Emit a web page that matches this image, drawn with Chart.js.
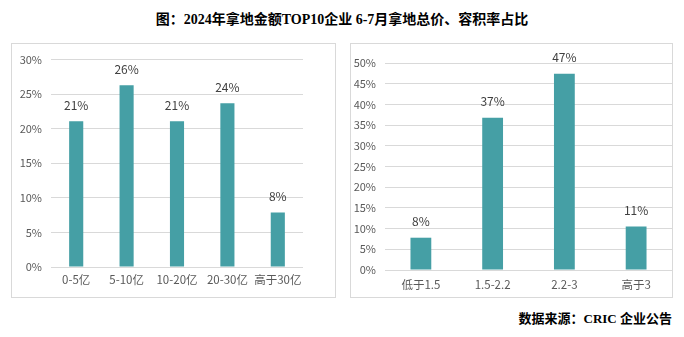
<!DOCTYPE html>
<html>
<head>
<meta charset="utf-8">
<script src="https://cdn.jsdelivr.net/npm/chart.js@4/dist/chart.umd.min.js"></script>
<style>
  body { margin: 0; background: #fff; width: 684px; height: 337px; position: relative; overflow: hidden; }
  #title { position: absolute; left: 0; width: 684px; top: 8px; text-align: center; font: bold 14px "Liberation Serif", "Noto Sans CJK SC"; color: #000; }
  #source { position: absolute; right: 12px; top: 308px; font: bold 13px "Liberation Serif", "Noto Sans CJK SC"; color: #000; }
  .box { position: absolute; border: 1px solid #d9d9d9; box-sizing: border-box; }
  .box canvas { position: absolute; left: 0; top: 0; }
</style>
</head>
<body>
<div id="title">图：2024年拿地金额TOP10企业 6-7月拿地总价、容积率占比</div>
<div class="box" style="left:11px;top:43px;width:325px;height:255px;"><canvas id="priceChart"></canvas></div>
<div class="box" style="left:350px;top:43px;width:323px;height:255px;"><canvas id="farChart"></canvas></div>
<div id="source">数据来源：CRIC 企业公告</div>
<script>
// left: land price ranges
const priceLabels = ["0-5亿", "5-10亿", "10-20亿", "20-30亿", "高于30亿"];
const priceShare = [21.1, 26.3, 21.1, 23.7, 7.9];

// right: plot ratio ranges
const farLabels = ["低于1.5", "1.5-2.2", "2.2-3", "高于3"];
const farShare = [7.8, 36.8, 47.4, 10.5];

const barColor = "#459fa5";
const textColor = "#595959";
const fontFamily = "'Noto Sans CJK SC', 'Noto Sans', sans-serif";

// value labels above bars
const valueLabels = {
    id: "valueLabels",
    afterDatasetsDraw(chart) {
        const ctx = chart.ctx;
        const meta = chart.getDatasetMeta(0);
        const values = chart.data.datasets[0].data;
        ctx.save();
        ctx.fillStyle = "#404040";
        ctx.font = "12px " + fontFamily;
        ctx.textAlign = "center";
        ctx.textBaseline = "middle";
        meta.data.forEach((bar, i) => {
            ctx.fillText(Math.round(values[i]) + "%", bar.x, bar.y - 16);
        });
        ctx.restore();
    }
};

function makeChart(id, w, h, labels, values, maxY, barPct, pad, yWidth, xHeight, xPad) {
    const canvas = document.getElementById(id);
    canvas.width = w;
    canvas.height = h;
    canvas.style.width = w + "px";
    canvas.style.height = h + "px";
    return new Chart(canvas.getContext("2d"), {
        type: "bar",
        data: {
            labels: labels,
            datasets: [{
                data: values,
                backgroundColor: barColor,
                barPercentage: barPct,
                categoryPercentage: 1
            }]
        },
        options: {
            responsive: false,
            animation: false,
            layout: { padding: pad },
            plugins: { legend: { display: false }, tooltip: { enabled: false } },
            scales: {
                x: {
                    grid: { display: false, drawTicks: false },
                    border: { display: false },
                    ticks: { color: textColor, font: { family: fontFamily, size: 11.5 }, padding: xPad, maxRotation: 0 },
                    afterFit: (s) => { s.height = xHeight; }
                },
                y: {
                    min: 0,
                    max: maxY,
                    grid: { color: "#d9d9d9", drawTicks: false },
                    border: { display: false },
                    ticks: {
                        stepSize: 5,
                        color: textColor,
                        font: { family: fontFamily, size: 11 },
                        padding: 9,
                        callback: (v) => v + "%"
                    },
                    afterFit: (s) => { s.width = yWidth; }
                }
            }
        },
        plugins: [valueLabels]
    });
}

makeChart("priceChart", 325, 255, priceLabels, priceShare, 30, 0.28,
    { top: 15, right: 34, bottom: 0, left: 0 }, 39, 32, 6);
makeChart("farChart", 323, 255, farLabels, farShare, 50, 0.29,
    { top: 19, right: 2, bottom: 0, left: 0 }, 34, 29, 8);
</script>
</body>
</html>
